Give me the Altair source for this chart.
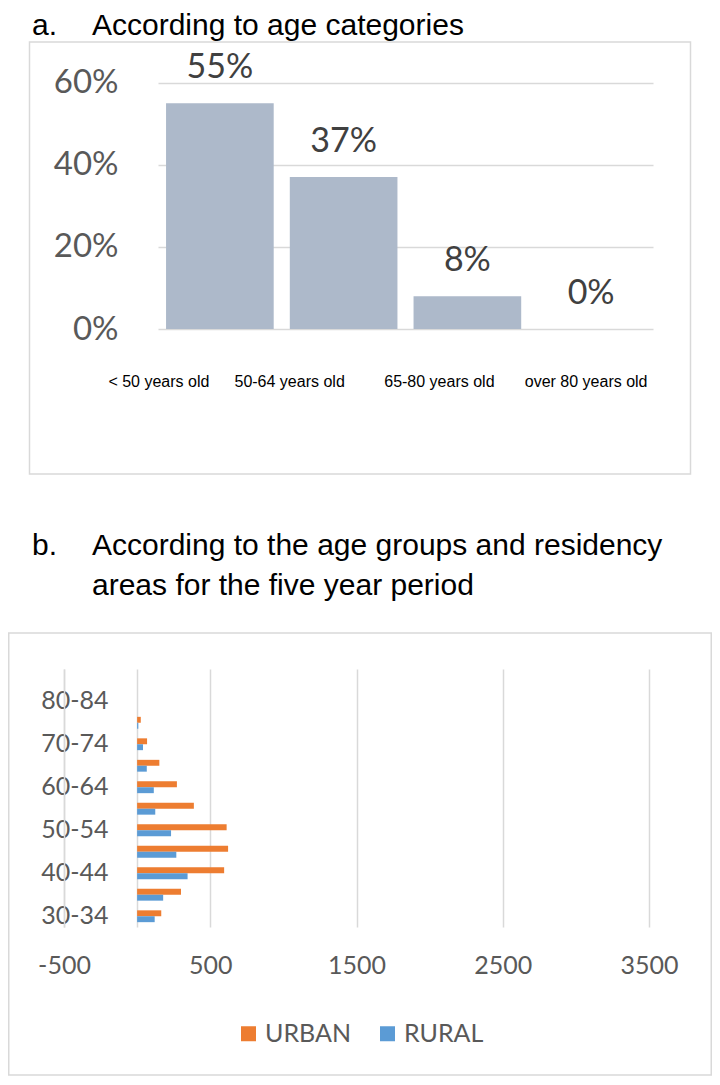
import altair as alt
import pandas as pd

# ---------------- panel a data ----------------
age_categories = ["< 50 years old", "50-64 years old", "65-80 years old", "over 80 years old"]
age_shares = [0.55, 0.37, 0.08, 0.0]
share_ticks = [0.0, 0.2, 0.4, 0.6]

# ---------------- panel b data ----------------
age_groups = ["85+", "80-84", "75-79", "70-74", "65-69", "60-64",
              "55-59", "50-54", "45-49", "40-44", "35-39", "30-34"]
labelled_groups = ["80-84", "70-74", "60-64", "50-54", "40-44", "30-34"]
urban_counts = [0, 0, 25, 68, 152, 272, 388, 612, 622, 595, 300, 165]
rural_counts = [0, 0, 8, 40, 66, 114, 124, 232, 268, 345, 178, 120]
areas = ["URBAN", "RURAL"]
area_colors = ["#ed7d31", "#5b9bd5"]
count_ticks = [-500, 0, 500, 1500, 2500, 3500]

GRID = "#d9d9d9"
W, H = 704, 1068
one = alt.Data(values=[{}])

# ================= decoration: frames and headings =================
frame_a = alt.Chart(one).mark_rect(
    fill="#ffffff", fillOpacity=0, stroke=GRID, strokeWidth=1.5
).encode(x=alt.value(21.5), x2=alt.value(682.5), y=alt.value(34), y2=alt.value(466))

frame_b = alt.Chart(one).mark_rect(
    fill="#ffffff", fillOpacity=0, stroke=GRID, strokeWidth=1.5
).encode(x=alt.value(0.75), x2=alt.value(703.25), y=alt.value(625), y2=alt.value(1067))

def heading(txt, x, y):
    return alt.Chart(one).mark_text(
        text=txt, align="left", baseline="alphabetic",
        font="Liberation Sans", fontSize=30, color="#000000"
    ).encode(x=alt.value(x), y=alt.value(y))

headings = alt.layer(
    heading("a.", 24, 27),
    heading("According to age categories", 84, 27),
    heading("b.", 24, 547),
    heading("According to the age groups and residency", 84, 547),
    heading("areas for the five year period", 84, 587),
)

decor = alt.layer(frame_a, frame_b, headings)

# ================= panel a =================
df_a = pd.DataFrame({"category": age_categories, "share": age_shares})

offset_expr = ("datum.value === '< 50 years old' ? -61 : "
               "datum.value === '50-64 years old' ? -54 : "
               "datum.value === '65-80 years old' ? -28 : -5")

x_a = alt.X("category:N", sort=age_categories, title=None,
            scale=alt.Scale(range=[150, 645], paddingInner=0.13, paddingOuter=0.065),
            axis=alt.Axis(orient="bottom", offset=321 - H,
                          labelAngle=0, domain=False, ticks=False, grid=False,
                          labelFont="Liberation Sans", labelFontSize=16,
                          labelColor="#000000", labelPadding=44,
                          labelOffset=alt.ExprRef(expr=offset_expr)))
y_a = alt.Y("share:Q", title=None,
            scale=alt.Scale(domain=[0, 0.6], range=[321, 74.7], nice=False),
            axis=alt.Axis(orient="left", offset=-150,
                          values=share_ticks, format=".0%", domain=False, ticks=False,
                          grid=True, gridColor=GRID, gridWidth=1.5,
                          labelFont="Lato", labelFontSize=33, labelColor="#595959",
                          labelPadding=40))

bars_a = alt.Chart(df_a).mark_bar(color="#adb9ca").encode(x=x_a, y=y_a)
text_a = alt.Chart(df_a).mark_text(
    font="Lato", fontSize=34, color="#404040", dy=-35, baseline="middle"
).encode(x=alt.X("category:N", sort=age_categories),
         y=alt.Y("share:Q"),
         text=alt.Text("share:Q", format=".0%"))

panel_a = alt.layer(bars_a, text_a)

# ================= panel b =================
df_b = pd.DataFrame({
    "group": age_groups * 2,
    "area": ["URBAN"] * len(age_groups) + ["RURAL"] * len(age_groups),
    "count": urban_counts + rural_counts,
})

x_b = alt.X("count:Q", title=None,
            scale=alt.Scale(domain=[-500, 3500], range=[56, 641], nice=False, zero=False),
            axis=alt.Axis(orient="top", offset=-957,
                          values=count_ticks, domain=False, ticks=False, tickSize=0,
                          grid=True, gridColor=GRID, gridWidth=1.5,
                          labelFlush=False, labelBaseline="middle",
                          labelExpr="datum.value == 0 ? '' : '' + datum.value",
                          labelFont="Lato", labelFontSize=25, labelColor="#595959",
                          labelPadding=0))
# the category axis sits on the -500 edge of the value scale
y_b = alt.Y("group:N", sort=age_groups, title=None,
            scale=alt.Scale(range=[661, 919], paddingInner=0.45, paddingOuter=0.225),
            axis=alt.Axis(orient="left", offset=-56,
                          values=labelled_groups, ticks=False, grid=False,
                          domain=True, domainColor=GRID, domainWidth=1.5,
                          labelAlign="right", labelPadding=-44,
                          labelFont="Lato", labelFontSize=25, labelColor="#595959"))

bars_b = alt.Chart(df_b).mark_bar().encode(
    x=x_b,
    x2=alt.datum(0),
    y=y_b,
    yOffset=alt.YOffset("area:N", sort=areas),
    color=alt.Color("area:N", scale=alt.Scale(domain=areas, range=area_colors),
                    legend=alt.Legend(orient="none", legendX=228, legendY=1013,
                                      direction="horizontal", title=None,
                                      symbolType="square", symbolSize=225,
                                      symbolStrokeWidth=0, labelFont="Lato",
                                      labelFontSize=25, labelColor="#595959",
                                      labelOffset=4, columnPadding=24, padding=0)),
)

chart = alt.layer(decor, panel_a, bars_b).resolve_scale(
    x="independent", y="independent"
).properties(
    width=W, height=H, padding=0
).configure_view(strokeWidth=0)

chart.save("out.html", embed_options={"renderer": "svg", "actions": False})
